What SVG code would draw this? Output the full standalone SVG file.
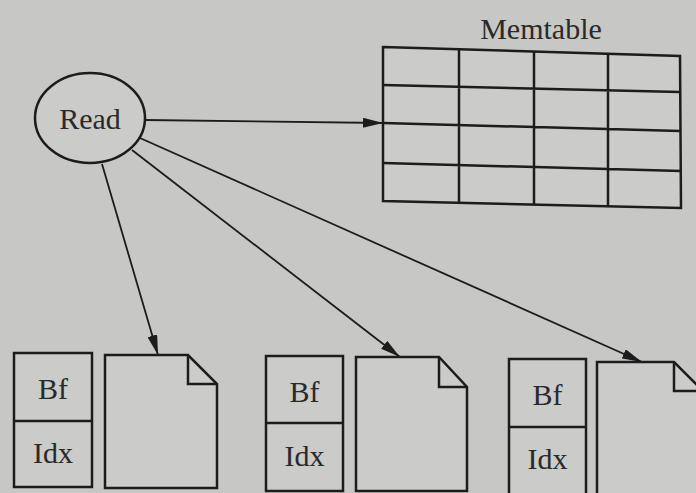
<svg xmlns="http://www.w3.org/2000/svg" width="696" height="493" viewBox="0 0 696 493">
<defs>
<style>
.ln{fill:none;stroke:#1c1c1c;stroke-width:2.5;stroke-linejoin:miter}
.bx{fill:#cbcbc9;stroke:#1c1c1c;stroke-width:2.5}
.tx{font-family:"Liberation Serif","DejaVu Serif",serif;font-size:30px;fill:#2a2a2a;text-anchor:middle}
.ar{fill:none;stroke:#1c1c1c;stroke-width:1.8}
</style>
<marker id="ah" viewBox="0 0 20 10" refX="20" refY="5" markerWidth="20" markerHeight="10" markerUnits="userSpaceOnUse" orient="auto">
<path d="M0,0 L20,5 L0,10 Z" fill="#1c1c1c"/>
</marker>
</defs>
<rect width="696" height="493" fill="#c7c7c5"/>
<g id="read">
<ellipse cx="90" cy="118" rx="55" ry="45" class="bx"/>
<text x="90" y="129" class="tx">Read</text>
</g>
<g id="memtable">
<text x="541" y="39" class="tx">Memtable</text>
<polygon points="383,47 680,56 681,208 383,201" class="bx"/>
<path class="ln" d="M383,85 L680,92 M383,123 L680,131 M383,163 L681,171 M459,49 L459,203 M534,51 L534,205 M608,54 L608,206"/>
</g>
<g id="sst1">
<rect x="14" y="353" width="78" height="134" class="bx"/>
<line x1="14" y1="421" x2="92" y2="421" class="ln"/>
<text x="53" y="399" class="tx">Bf</text>
<text x="53" y="463" class="tx">Idx</text>
<path d="M105,355 L188,355 L217,384 L217,488 L105,488 Z" class="bx"/>
<path d="M188,355 L188,384 L217,384" class="ln"/>
</g>
<g id="sst2">
<rect x="266" y="356" width="77" height="135" class="bx"/>
<line x1="266" y1="423" x2="343" y2="423" class="ln"/>
<text x="304.5" y="402" class="tx">Bf</text>
<text x="304.5" y="466" class="tx">Idx</text>
<path d="M356,357 L439,357 L467,387 L467,491 L356,491 Z" class="bx"/>
<path d="M439,357 L439,387 L467,387" class="ln"/>
</g>
<g id="sst3">
<rect x="509" y="359" width="77" height="136" class="bx"/>
<line x1="509" y1="427" x2="586" y2="427" class="ln"/>
<text x="547.5" y="405" class="tx">Bf</text>
<text x="547.5" y="469" class="tx">Idx</text>
<path d="M597,362 L674,362 L703,391 L703,496 L597,496 Z" class="bx"/>
<path d="M674,362 L674,391 L703,391" class="ln"/>
</g>
<g id="connectors">
<line x1="145" y1="120" x2="383" y2="123" class="ar" marker-end="url(#ah)"/>
<line x1="102" y1="164" x2="158" y2="355" class="ar" marker-end="url(#ah)"/>
<line x1="132" y1="150" x2="400" y2="357" class="ar" marker-end="url(#ah)"/>
<line x1="140" y1="138" x2="642" y2="362" class="ar" marker-end="url(#ah)"/>
</g>
</svg>
